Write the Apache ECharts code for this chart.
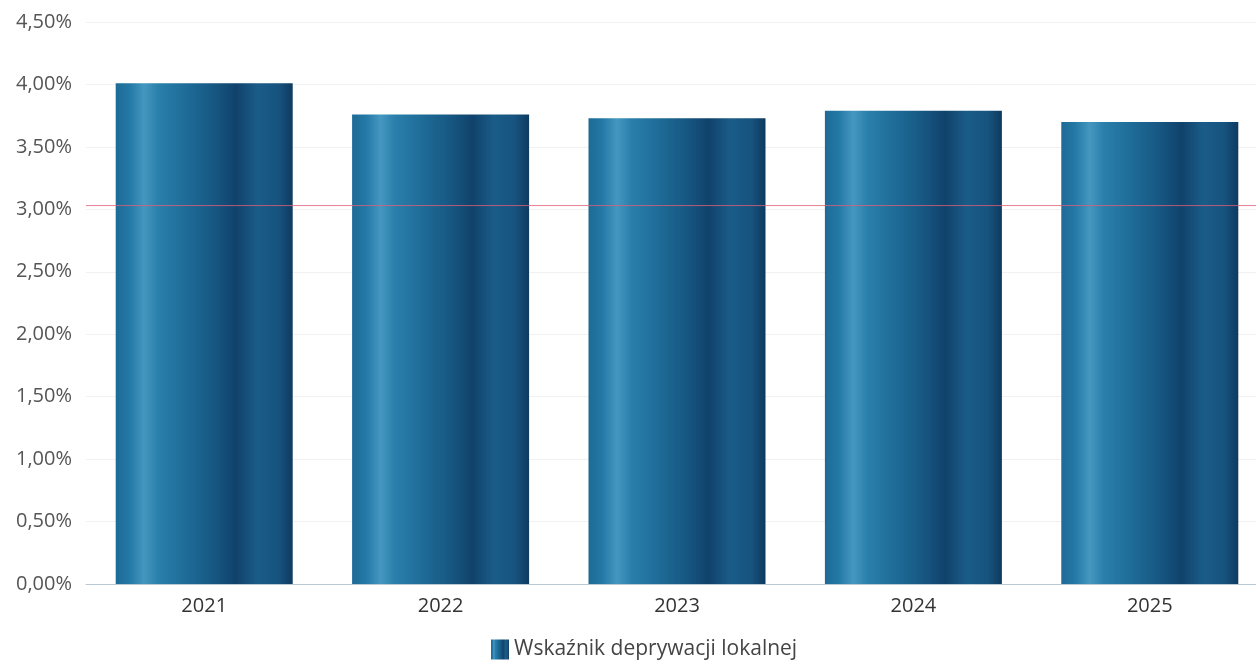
<!DOCTYPE html>
<html>
<head>
<meta charset="utf-8">
<script src="https://cdn.jsdelivr.net/npm/echarts@6/dist/echarts.min.js"></script>
<style>
html,body{margin:0;padding:0;background:#fff;overflow:hidden;}
#c{width:1268px;height:663px;}
</style>
</head>
<body>
<div id="c"></div>
<script>
const categories = ['2021', '2022', '2023', '2024', '2025'];
const seriesName = 'Wskaźnik deprywacji lokalnej';
const values = [4.01, 3.76, 3.73, 3.79, 3.70];
const yTicks = [0, 0.5, 1, 1.5, 2, 2.5, 3, 3.5, 4, 4.5];
const refLineValue = 3.03;

const barGradient = new echarts.graphic.LinearGradient(0, 0, 1, 0, [
  {offset: 0, color: '#1e6a96'},
  {offset: 0.08, color: '#2479a6'},
  {offset: 0.16, color: '#4597c0'},
  {offset: 0.24, color: '#2a80ab'},
  {offset: 0.40, color: '#1e6b97'},
  {offset: 0.55, color: '#175883'},
  {offset: 0.68, color: '#10426b'},
  {offset: 0.80, color: '#1a5c88'},
  {offset: 0.92, color: '#17537f'},
  {offset: 1, color: '#0e3a60'}
]);

const chart = echarts.init(document.getElementById('c'));
chart.setOption({
  backgroundColor: '#ffffff',
  animation: false,
  grid: {left: 86, top: 22, right: 0, bottom: 79, containLabel: false},
  legend: {
    data: [seriesName],
    top: 634,
    left: 486,
    icon: 'rect',
    itemWidth: 18,
    itemHeight: 20,
    itemGap: 8,
    textStyle: {fontFamily: 'Open Sans', fontSize: 21, color: '#444'}
  },
  xAxis: [{
    type: 'category',
    data: categories,
    axisLine: {lineStyle: {color: '#b9c9d6', width: 1}},
    axisTick: {show: false},
    axisLabel: {fontFamily: 'Open Sans', fontSize: 20, color: '#333', margin: 12}
  }, {
    type: 'value', min: 0, max: 1, show: false
  }],
  yAxis: {
    type: 'value',
    min: 0,
    max: 4.5,
    interval: 0.5,
    axisLine: {show: false},
    axisTick: {show: false},
    splitLine: {lineStyle: {color: '#f1f1f1', width: 1}},
    axisLabel: {
      fontFamily: 'Open Sans', fontSize: 20, color: '#555', margin: 14,
      formatter: v => v.toFixed(2).replace('.', ',') + '%'
    }
  },
  series: [{
    name: seriesName,
    type: 'bar',
    data: values,
    barWidth: 177,
    itemStyle: {color: barGradient}
  }, {
    name: 'ref',
    type: 'line',
    xAxisIndex: 1,
    data: [[0, refLineValue], [1, refLineValue]],
    symbol: 'none',
    silent: true,
    z: 5,
    lineStyle: {color: '#de5f79', width: 1, opacity: 0.8},
    itemStyle: {color: '#de5f79'}
  }]
});
</script>
</body>
</html>
